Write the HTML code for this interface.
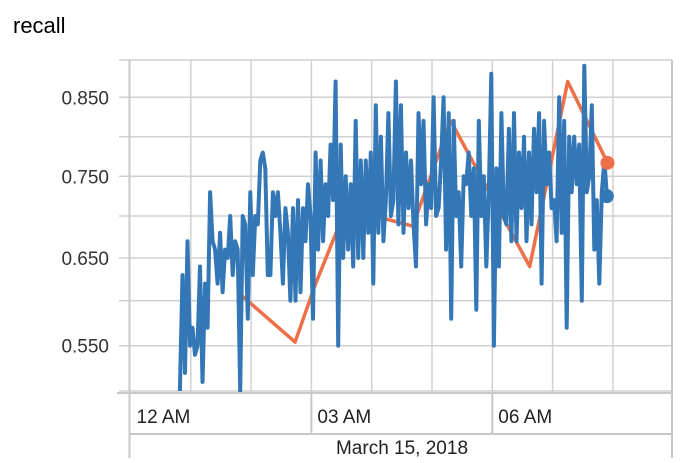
<!DOCTYPE html>
<html><head><meta charset="utf-8"><style>
body{margin:0;background:#fff;width:694px;height:458px;overflow:hidden;font-family:"Liberation Sans",sans-serif}
</style></head><body>
<svg id="chart" width="694" height="458" xmlns="http://www.w3.org/2000/svg">
<text x="13" y="33" font-size="22" fill="#000" font-family="Liberation Sans, sans-serif">recall</text>
<g id="grid"></g>
<g id="series"></g>
<g id="axes"></g>
</svg>
<script>
const yTickValues=[0.5,0.55,0.6,0.65,0.7,0.75,0.8,0.85];
const yTickLabels=["0.550","0.650","0.750","0.850"];
const yLabelValues=[0.55,0.65,0.75,0.85];
const xTickHours=[0,3,6];
const xTickLabels=["12 AM","03 AM","06 AM"];
const dateLabel="March 15, 2018";
const orangeHours=[1.78,2.73,3.06,3.41,4.05,4.68,5.31,6.62,7.25,7.91];
const orangeValues=[0.61,0.554,0.618,0.68,0.70,0.688,0.82,0.64,0.87,0.767];
const blueStart=0.82, blueEnd=7.9;
const blueValues=[0.50,0.63,0.52,0.67,0.55,0.57,0.54,0.55,0.64,0.51,0.62,0.57,0.73,0.67,0.66,0.62,0.68,0.61,0.66,0.65,0.70,0.63,0.67,0.66,0.50,0.70,0.69,0.58,0.73,0.63,0.70,0.69,0.77,0.78,0.76,0.63,0.63,0.73,0.70,0.73,0.68,0.62,
0.71,0.68,0.60,0.71,0.60,0.72,0.61,0.71,0.67,0.74,0.70,0.58,0.78,0.66,0.77,0.67,0.74,0.70,0.79,0.72,0.87,0.55,0.79,0.65,0.75,0.66,0.74,0.64,0.82,0.65,0.77,0.65,0.77,0.68,0.78,0.62,0.84,0.68,0.80,0.67,0.72,0.83,0.70,0.72,
0.87,0.69,0.84,0.68,0.78,0.71,0.77,0.69,0.64,0.83,0.74,0.82,0.69,0.74,0.71,0.85,0.70,0.71,0.77,0.85,0.66,0.83,0.58,0.82,0.70,0.73,0.64,0.75,0.74,0.78,0.70,0.76,0.59,0.82,0.70,0.75,0.64,0.73,0.88,0.55,0.76,0.64,0.83,0.70,
0.69,0.81,0.67,0.83,0.67,0.78,0.71,0.80,0.67,0.78,0.69,0.81,0.73,0.83,0.62,0.82,0.74,0.78,0.71,0.72,0.67,0.85,0.68,0.82,0.57,0.80,0.73,0.80,0.74,0.79,0.60,0.89,0.73,0.75,0.84,0.66,0.72,0.62,0.73,0.77,0.725];

const L=129.5,R=672,T=60,B=393;
const gridY=[391,345.7,300.7,258,216,176.3,136.7,97.3];
function yScale(v){
  if(v<=0.5) return gridY[0]+(0.5-v)/0.05*45;
  for(let i=0;i<yTickValues.length-1;i++){
    if(v<=yTickValues[i+1]) return gridY[i]+(v-yTickValues[i])/0.05*(gridY[i+1]-gridY[i]);
  }
  return gridY[7]-(v-0.85)/0.05*39.4;
}
function xScale(h){return 130.5+h*60.3;}
const NS="http://www.w3.org/2000/svg";
function mk(tag,attrs,parent){const e=document.createElementNS(NS,tag);for(const k in attrs)e.setAttribute(k,attrs[k]);parent.appendChild(e);return e;}
const gridG=document.getElementById('grid'),ser=document.getElementById('series'),axes=document.getElementById('axes');
yTickValues.forEach(v=>{
  const l=mk('line',{x1:119,x2:R,y1:yScale(v),y2:yScale(v),stroke:'#d0d0d0','stroke-width':1.5},gridG);
  
  
});
for(let h=1;h<=9;h++){
  const x=xScale(h); if(x>R) break;
  const l=mk('line',{x1:x,x2:x,y1:T,y2:B,stroke:'#d0d0d0','stroke-width':1.5},gridG);
  
  
}
const topBorder=mk('line',{x1:119,x2:R,y1:T,y2:T,stroke:'#d0d0d0','stroke-width':1.5},gridG);


yLabelValues.forEach((v,i)=>{
  const t=mk('text',{x:109,y:yScale(v)+7,'text-anchor':'end','font-size':19,fill:'#333'},axes);
  t.textContent=yTickLabels[i];
  
  
});
const frame=[[L,T,L,458],[117,B,R,B],[L,434,R,434],[R,T,R,458]];
frame.forEach(f=>{
  const l=mk('line',{x1:f[0],y1:f[1],x2:f[2],y2:f[3],stroke:'#c8c8c8','stroke-width':2},axes);
  
  
});
xTickHours.forEach((h,i)=>{
  const x=xScale(h);
  if(i>0){const d=mk('line',{x1:x,x2:x,y1:B,y2:434,stroke:'#c8c8c8','stroke-width':2},axes);
    
    }
  const t=mk('text',{x:x+6,y:423,'font-size':19,fill:'#222'},axes);
  t.textContent=xTickLabels[i];
  
  
});
const dl=mk('text',{x:402,y:454,'text-anchor':'middle','font-size':19,fill:'#222'},axes);
dl.textContent=dateLabel;


const defs=mk('defs',{},ser);const cp=mk('clipPath',{id:'clip'},defs);mk('rect',{x:L,y:T,width:R-L,height:B-T},cp);
const op=orangeHours.map((h,i)=>xScale(h).toFixed(1)+','+yScale(orangeValues[i]).toFixed(1)).join(' ');
const ol=mk('polyline',{points:op,fill:'none',stroke:'#ee7048','stroke-width':3.5,'stroke-linejoin':'round','clip-path':'url(#clip)'},ser);


const n=blueValues.length;
const bp=blueValues.map((v,i)=>xScale(blueStart+(blueEnd-blueStart)*i/(n-1)).toFixed(1)+','+yScale(v).toFixed(1)).join(' ');
const bl=mk('polyline',{points:bp,fill:'none',stroke:'#3477b6','stroke-width':4,'stroke-linejoin':'round','clip-path':'url(#clip)'},ser);


const od=mk('circle',{cx:xScale(orangeHours[orangeHours.length-1]),cy:yScale(orangeValues[orangeValues.length-1]),r:7,fill:'#ee7048'},ser);


const bd=mk('circle',{cx:xScale(blueEnd),cy:yScale(blueValues[n-1]),r:7,fill:'#3477b6'},ser);


</script>
</body></html>
